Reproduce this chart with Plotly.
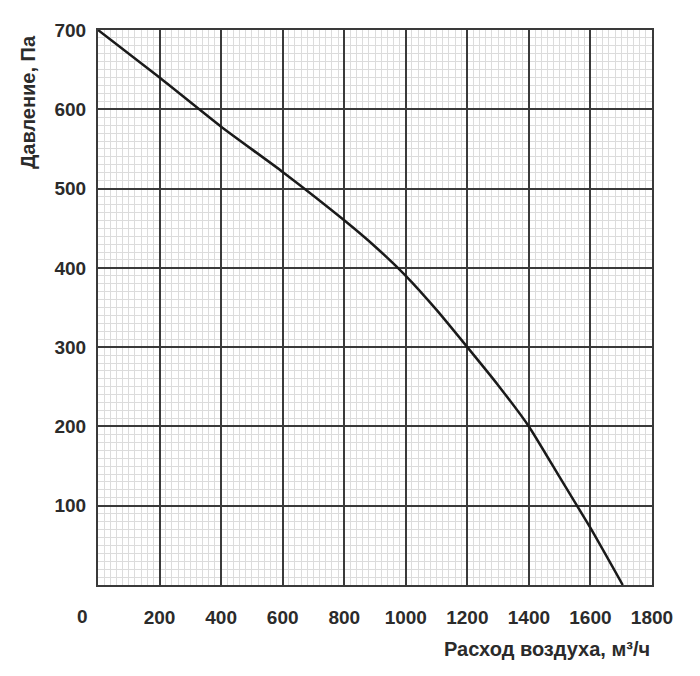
import plotly.graph_objects as go

# airflow, m3/h
flow = [0, 200, 400, 600, 800, 900, 1000, 1100, 1200, 1300, 1400, 1500, 1600, 1705]
# pressure, Pa
pressure = [700, 640, 578, 521, 460, 427, 390, 347, 300, 252, 200, 136, 72, 0]

x_ticks = [200, 400, 600, 800, 1000, 1200, 1400, 1600, 1800]
y_ticks = [100, 200, 300, 400, 500, 600, 700]

text_col = "#2b2b2b"
tick_font = dict(family="Liberation Sans", size=19, color=text_col, weight="bold")
title_font = dict(family="Liberation Sans", size=20, color=text_col)

# page body adds an 8px offset, so margins are shifted to land the plot box
# at 98..652 x 25..585 in the window
L, R, T, B = 90, 56, 17, 99
W, H = 700, 676
pw, ph = W - L - R, H - T - B

fig = go.Figure(go.Scatter(
    x=flow, y=pressure, mode="lines",
    line=dict(color="#1a1a1a", width=2.5, shape="spline", smoothing=0.5),
    hoverinfo="skip",
))

fig.update_xaxes(
    range=[0, 1800], tickvals=x_ticks, ticks="", ticklabelstandoff=14,
    showgrid=True, gridcolor="#3a3a3a", gridwidth=2,
    minor=dict(dtick=20, showgrid=True, gridcolor="#dcdcdc", gridwidth=1),
    showline=True, linecolor="#3a3a3a", linewidth=2, mirror=True,
    zeroline=False, tickfont=tick_font,
)
fig.update_yaxes(
    range=[0, 700], tickvals=y_ticks, ticks="", ticklabelstandoff=6,
    showgrid=True, gridcolor="#3a3a3a", gridwidth=2,
    minor=dict(dtick=10, showgrid=True, gridcolor="#dcdcdc", gridwidth=1),
    showline=True, linecolor="#3a3a3a", linewidth=2, mirror=True,
    zeroline=False, tickfont=tick_font,
)

fig.update_layout(
    width=W, height=H,
    margin=dict(l=L, r=R, t=T, b=B),
    paper_bgcolor="white", plot_bgcolor="white",
    showlegend=False,
    annotations=[
        # origin label shared by both axes
        dict(text="<b>0</b>", x=-16 / pw, y=-32 / ph,
             xref="paper", yref="paper", xanchor="center", yanchor="middle",
             showarrow=False, font=tick_font),
        dict(text="<b>Расход воздуха, м³/ч</b>", x=1, y=-65 / ph,
             xref="paper", yref="paper", xanchor="right", yanchor="middle",
             showarrow=False, font=title_font),
        dict(text="<b>Давление, Па</b>", x=-70 / pw, y=1 - 3 / ph,
             xref="paper", yref="paper", xanchor="center", yanchor="top",
             textangle=-90, showarrow=False, font=title_font),
    ],
)

fig.write_html("out.html")
